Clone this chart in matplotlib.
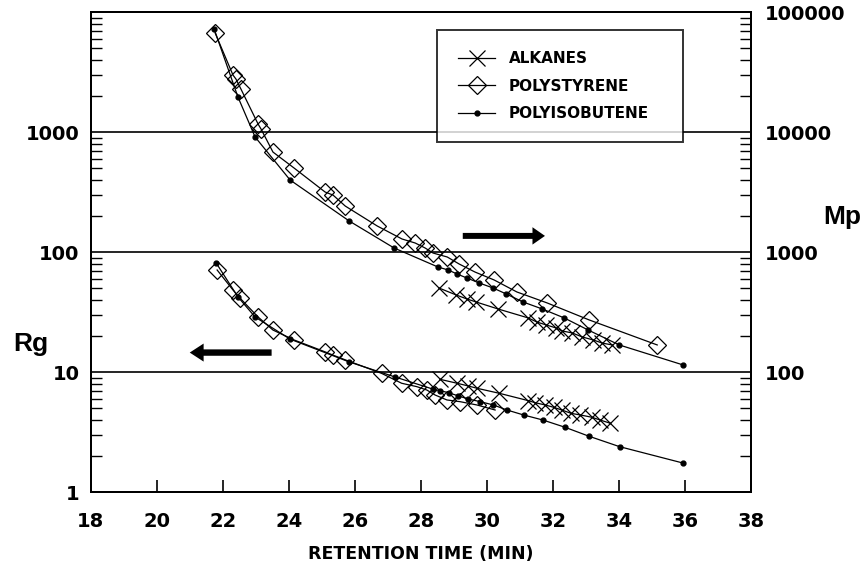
import numpy as np
import matplotlib.pyplot as plt
from matplotlib.ticker import FixedLocator, LogLocator, NullFormatter, FixedFormatter

# radius of gyration (left axis)
rg_alk_t = [28.58, 29.11, 29.44, 29.70, 30.38, 31.26, 31.46, 31.77, 32.02, 32.27,
            32.55, 32.83, 33.18, 33.43, 33.74]
rg_alk = [8.74, 8.09, 7.69, 7.36, 6.68, 5.80, 5.58, 5.34, 5.11, 4.85,
          4.55, 4.41, 4.22, 4.00, 3.76]

rg_ps_t = [21.83, 22.31, 22.52, 23.07, 23.52, 24.16, 25.10, 25.34, 25.71, 26.81,
           27.42, 27.88, 28.18, 28.43, 28.79, 29.19, 29.70, 30.25]
rg_ps = [71.2, 48.5, 41.6, 28.9, 22.5, 18.6, 14.8, 13.9, 12.7, 9.8,
         8.1, 7.59, 7.12, 6.47, 5.88, 5.69, 5.34, 4.85]

rg_pib_t = [21.80, 22.46, 22.98, 24.04, 25.83, 27.22, 28.38, 28.58, 28.84, 29.14,
            29.44, 29.80, 30.20, 30.61, 31.11, 31.70, 32.37, 33.08, 34.02, 35.95]
rg_pib = [81.5, 42.5, 28.9, 18.9, 12.2, 9.14, 7.22, 7.03, 6.76, 6.35,
          5.99, 5.69, 5.34, 4.85, 4.41, 4.00, 3.48, 2.94, 2.40, 1.75]

# peak molecular weight (right axis)
mp_alk_t = [28.55, 29.07, 29.40, 29.68, 30.34, 31.25, 31.52, 31.80, 32.10, 32.28,
            32.58, 32.89, 33.22, 33.50, 33.80]
mp_alk = [504, 441, 408, 385, 337, 284, 262, 248, 234, 221,
          213, 197, 186, 175, 169]

mp_ps_t = [21.77, 22.31, 22.40, 22.55, 23.07, 23.16, 23.52, 24.16, 25.10, 25.34,
           25.71, 26.68, 27.43, 27.83, 28.13, 28.37, 28.80, 29.16, 29.64, 30.22,
           30.91, 31.82, 33.10, 35.16]
mp_ps = [67200, 30000, 27800, 22960, 11720, 10650, 6850, 5040, 3180, 3000,
         2430, 1656, 1291, 1195, 1086, 986, 914, 799, 685, 588,
         467, 379, 273, 169]

mp_pib_t = [21.74, 22.46, 22.98, 24.04, 25.83, 27.19, 28.52, 28.83, 29.10, 29.40,
            29.77, 30.19, 30.59, 31.10, 31.68, 32.34, 33.07, 34.01, 35.95]
mp_pib = [72600, 19700, 9140, 4005, 1824, 1086, 754, 712, 659, 610,
          555, 504, 449, 385, 337, 284, 225, 169, 115]

FONT = 'DejaVu Sans'
bold = dict(family=FONT, weight='bold')

fig = plt.figure(figsize=(8.67, 5.68), dpi=100)
ax = fig.add_axes([0.1046, 0.1333, 0.7616, 0.845])
ax2 = ax.twinx()

alk_style = dict(color='k', lw=0.9, marker='x', ms=11, mew=0.9)
ps_style = dict(color='k', lw=0.9, marker='D', ms=9, mfc='none', mew=0.9)
pib_style = dict(color='k', lw=0.9, marker='o', ms=3.5)

ax.plot(rg_alk_t, rg_alk, **alk_style, label='ALKANES')
ax.plot(rg_ps_t, rg_ps, **ps_style, label='POLYSTYRENE')
ax.plot(rg_pib_t, rg_pib, **pib_style, label='POLYISOBUTENE')
ax2.plot(mp_alk_t, mp_alk, **alk_style)
ax2.plot(mp_ps_t, mp_ps, **ps_style)
ax2.plot(mp_pib_t, mp_pib, **pib_style)

ax.set_xlim(18, 38)
ax.set_yscale('log')
ax.set_ylim(1, 10000)
ax2.set_yscale('log')
ax2.set_ylim(10, 100000)

ax.set_xticks(np.arange(18, 39, 2))
ax.set_xticklabels([str(v) for v in range(18, 39, 2)], fontdict=bold, fontsize=14)
ax.tick_params(axis='x', direction='in', length=9, width=1.2, pad=14)

ax.yaxis.set_major_locator(FixedLocator([1, 10, 100, 1000, 10000]))
ax.yaxis.set_major_formatter(FixedFormatter(['1', '10', '100', '1000', '']))
ax.yaxis.set_minor_locator(LogLocator(base=10, subs=np.arange(2, 10)))
ax.yaxis.set_minor_formatter(NullFormatter())
ax.tick_params(axis='y', which='major', length=0, pad=8)
ax.tick_params(axis='y', which='minor', direction='in', length=8, width=1)

ax2.yaxis.set_major_locator(FixedLocator([10, 100, 1000, 10000, 100000]))
ax2.yaxis.set_major_formatter(FixedFormatter(['', '100', '1000', '10000', '100000']))
ax2.yaxis.set_minor_locator(LogLocator(base=10, subs=np.arange(2, 10)))
ax2.yaxis.set_minor_formatter(NullFormatter())
ax2.tick_params(axis='y', which='major', length=0, pad=10)
ax2.tick_params(axis='y', which='minor', direction='in', length=8, width=1)

for a in (ax, ax2):
    for lab in a.get_yticklabels():
        lab.set_fontproperties(FONT)
        lab.set_fontweight('bold')
        lab.set_fontsize(14)
    for s in a.spines.values():
        s.set_linewidth(1.4)

for v in (10, 100, 1000):
    ax.axhline(v, color='k', lw=1.2, zorder=1)

ax.set_xlabel('RETENTION TIME (MIN)', fontdict=bold, fontsize=12.5, labelpad=10)
fig.text(0.035, 0.395, 'Rg', family='Liberation Sans', weight='bold', fontsize=19,
         ha='center', va='center')
fig.text(0.972, 0.618, 'Mp', family='Liberation Sans', weight='bold', fontsize=19,
         ha='center', va='center')

# direction arrows: left for Rg, right for Mp
ax.annotate('', xy=(31.76, 137), xytext=(29.27, 137),
            arrowprops=dict(arrowstyle='simple,head_length=9,head_width=12.5,tail_width=4.3',
                            mutation_scale=1, color='k', lw=0, shrinkA=0, shrinkB=0))
ax.annotate('', xy=(21.0, 14.6), xytext=(23.48, 14.6),
            arrowprops=dict(arrowstyle='simple,head_length=10,head_width=13,tail_width=4.6',
                            mutation_scale=1, color='k', lw=0, shrinkA=0, shrinkB=0))

leg = ax.legend(loc='upper left', bbox_to_anchor=(0.5245, 0.70, 0.3725, 0.263),
                mode='expand', borderaxespad=0, fancybox=False, frameon=True,
                prop=dict(family=FONT, weight='bold', size=11),
                borderpad=1.4, labelspacing=0.8, handlelength=2.4, handletextpad=0.9)
leg.get_frame().set_edgecolor('k')
leg.get_frame().set_linewidth(1.4)

fig.savefig('out.png', dpi=100)
